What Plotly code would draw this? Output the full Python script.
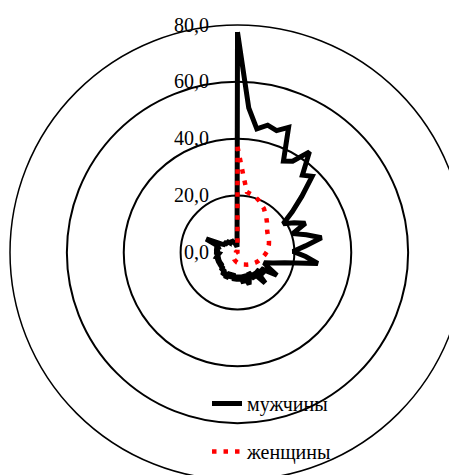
import plotly.graph_objects as go

categories = [str(i) for i in range(81)]

men = [77.5, 51, 44, 46, 45, 47.5, 36, 37.5, 43.5, 35.5,
       37.5, 30, 24, 19, 22.5, 26, 20.5, 25, 30, 24,
       19.5, 24, 28.5, 17, 13, 10, 12, 16, 10, 12,
       9, 14.5, 9, 11, 8, 10, 12, 8, 11, 8,
       10, 8, 10, 7.5, 9.5, 7.5, 10, 8, 9.5, 7.5,
       8.5, 7, 8, 6.5, 8, 6.5, 8, 6.5, 7.5, 7,
       6.5, 8, 6.5, 8, 7, 7.5, 12, 6.5, 5, 6,
       4.5, 5.5, 4.5, 5, 3.5, 5, 3.5, 4, 3, 2.5, 2]

women = [37.2, 27, 21.5, 21, 20.5, 19.8, 18.8, 18, 16.8, 15.8,
         14.8, 13.8, 13, 12.5, 12.2, 12, 11.7, 11.4, 11, 10.7,
         10.3, 9.8, 9.3, 8.8, 8.4, 8, 7.6, 7.2, 6.8, 6.3,
         6, 5.7, 5.4, 5.1, 4.8, 4.6, 4.4, 4.2, 4, 3.8,
         3.6, 3.5, 3.3, 3.1, 3, 2.8, 2.7, 2.5, 2.4, 2.2,
         2, 1.8, 1.6, 1.4, 1.2, 1.0, 0.9, 0.8, 0.7, 0.6,
         0.5, 0.5, 0.5, 0.4, 0.4, 0.4, 0.4, 0.3, 0.3, 0.3,
         0.3, 0.3, 0.3, 0.3, 0.3, 0.3, 0.3, 0.3, 0.3, 0.3, 0.3]

tick_vals = [0, 20, 40, 60, 80]
tick_text = ["0,0", "20,0", "40,0", "60,0", "80,0"]

pad = "\u00a0" * 5

fig = go.Figure()
fig.add_trace(go.Scatterpolar(
    r=men + men[:1], theta=categories + categories[:1],
    mode="lines", name="мужчины", legendgroup="m",
    line=dict(color="black", width=5)))
fig.add_trace(go.Scatterpolar(
    r=women + women[:1], theta=categories + categories[:1],
    mode="lines", name="женщины", legendgroup="w",
    line=dict(color="#ff0000", width=4.5, dash="4.5px,7px")))

fig.update_layout(
    width=470, height=485,
    margin=dict(l=2, r=13, t=17, b=13),
    paper_bgcolor="white",
    font=dict(family="Liberation Serif", size=20, color="black"),
    showlegend=True,
    legend=dict(x=0.433, y=0.211, xanchor="left", yanchor="top",
                bgcolor="rgba(0,0,0,0)", tracegroupgap=19,
                font=dict(family="Liberation Serif", size=20, color="black")),
    polar=dict(
        domain=dict(x=[0, 1], y=[0, 1]),
        bgcolor="rgba(0,0,0,0)",
        radialaxis=dict(range=[0, 80], tickvals=tick_vals,
                        ticktext=[t + pad for t in tick_text],
                        angle=90, tickangle=90, showline=False, ticks="",
                        gridcolor="black", gridwidth=1.5, side="counterclockwise",
                        tickfont=dict(family="Liberation Serif", size=20, color="black")),
        angularaxis=dict(type="category", rotation=90, direction="clockwise",
                         visible=True, showline=True, linecolor="black", linewidth=1.5,
                         showgrid=False, showticklabels=False, ticks="",
                         categoryarray=categories),
    ),
)

fig.write_html("out.html")
